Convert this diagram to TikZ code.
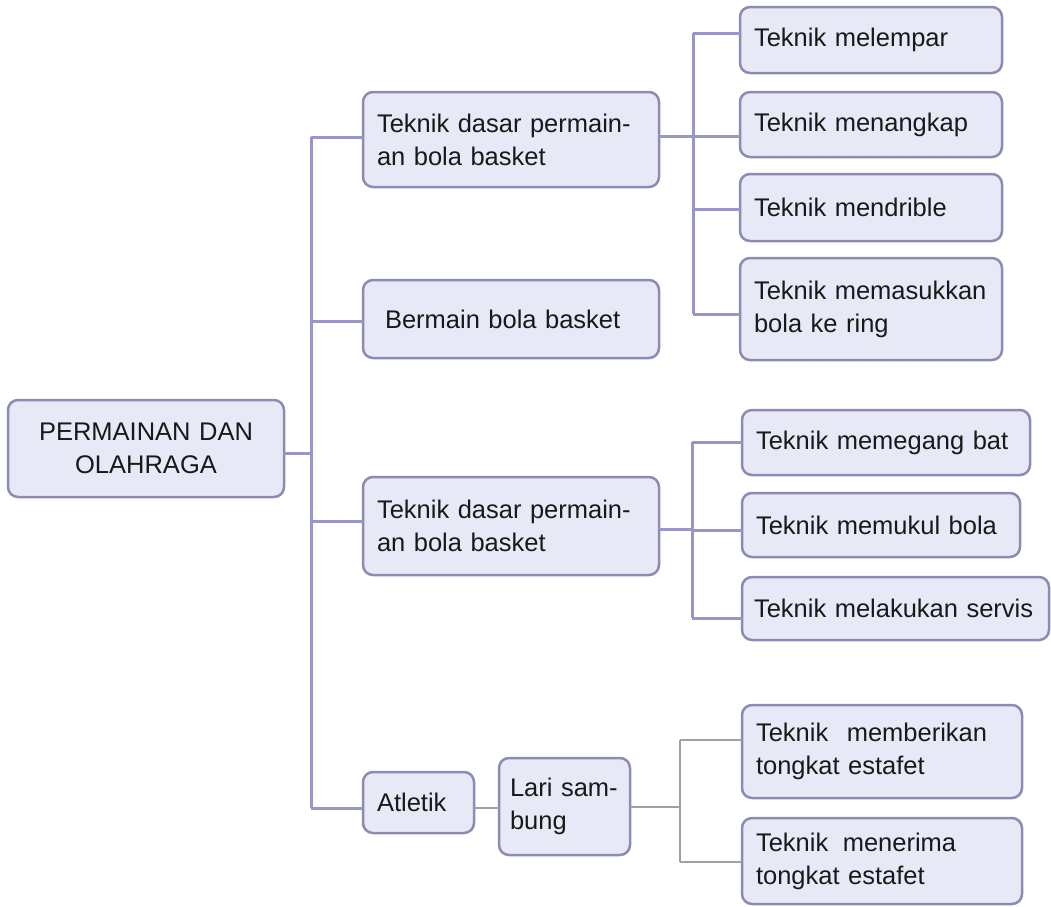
\documentclass[tikz,border=0pt]{standalone}
\usepackage{fontspec}
\setmainfont{Liberation Sans}
\definecolor{boxfill}{RGB}{232,233,247}
\definecolor{boxline}{RGB}{140,140,178}
\definecolor{linkc}{RGB}{152,150,200}
\definecolor{greyc}{RGB}{160,160,168}
\definecolor{txt}{RGB}{25,25,25}
\begin{document}
\begin{tikzpicture}[x=1pt,y=-1pt,
  bx/.style={draw=boxline, fill=boxfill, line width=2.5pt, rounded corners=10pt,
    anchor=north west, outer sep=0pt, inner xsep=14pt, inner ysep=0pt,
    text=txt, font=\fontsize{25.5}{33}\selectfont, align=left},
  lk/.style={draw=linkc, line width=3pt},
  lg/.style={draw=greyc, line width=2.2pt}]
\useasboundingbox (0,0) rectangle (1051,906);
% nodes
\node[bx, text width=248pt, minimum height=97pt, align=center] (root) at (8,400) {\mbox{PERMAINAN DAN}\\OLAHRAGA};
\node[bx, text width=268pt, minimum height=95pt] (A) at (363,92) {\mbox{Teknik dasar permain-}\\\mbox{an bola basket}};
\node[bx, inner xsep=22pt, text width=252pt, minimum height=78pt] (B) at (363,280) {\mbox{Bermain bola basket}};
\node[bx, text width=268pt, minimum height=98pt] (C) at (363,477) {\mbox{Teknik dasar permain-}\\\mbox{an bola basket}};
\node[bx, text width=83pt, minimum height=61pt] (Atl) at (363,772) {\mbox{Atletik}};
\node[bx, inner xsep=11pt, text width=109pt, minimum height=97pt] (Lari) at (499,758) {\mbox{Lari sam-}\\\mbox{bung}};
\node[bx, text width=234pt, minimum height=66pt] (m1) at (740,7) {\mbox{Teknik melempar}};
\node[bx, text width=234pt, minimum height=65pt] (m2) at (740,92) {\mbox{Teknik menangkap}};
\node[bx, text width=234pt, minimum height=67pt] (m3) at (740,174) {\mbox{Teknik mendrible}};
\node[bx, text width=234pt, minimum height=102pt] (m4) at (740,258) {\mbox{Teknik memasukkan}\\\mbox{bola ke ring}};
\node[bx, text width=260pt, minimum height=65pt] (c1) at (742,410) {\mbox{Teknik memegang bat}};
\node[bx, text width=250pt, minimum height=64pt] (c2) at (742,493) {\mbox{Teknik memukul bola}};
\node[bx, inner xsep=12pt, text width=283pt, minimum height=63pt] (c3) at (742,577) {\mbox{Teknik melakukan servis}};
\node[bx, text width=252pt, minimum height=93pt] (l1) at (742,705) {\mbox{Teknik\hspace{10pt} memberikan}\\\mbox{tongkat estafet}};
\node[bx, text width=252pt, minimum height=86pt] (l2) at (742,818) {\mbox{Teknik\hspace{6pt} menerima}\\\mbox{tongkat estafet}};
% junction coordinates
\coordinate (r0) at (311,453);
\coordinate (t1) at (311,137);
\coordinate (t2) at (311,321);
\coordinate (t3) at (311,521);
\coordinate (t4) at (311,808);
\coordinate (aj) at (693,136);
\coordinate (a1) at (693,33);
\coordinate (a3) at (693,209);
\coordinate (a4) at (693,314);
\coordinate (cj) at (692,529);
\coordinate (k1) at (692,442);
\coordinate (k2) at (692,530);
\coordinate (k3) at (692,618);
\coordinate (lj) at (680,807);
\coordinate (g1) at (680,740);
\coordinate (g2) at (680,862);
% connectors
\draw[lk] (r0 -| root.east) -- (r0);
\draw[lk] (t1) -- (t4);
\draw[lk] (t1) -- (t1 -| A.west);
\draw[lk] (t2) -- (t2 -| B.west);
\draw[lk] (t3) -- (t3 -| C.west);
\draw[lk] (t4) -- (t4 -| Atl.west);
\draw[lk] (aj -| A.east) -- (aj);
\draw[lk] (a1) -- (a4);
\draw[lk] (a1) -- (a1 -| m1.west);
\draw[lk] (aj) -- (aj -| m2.west);
\draw[lk] (a3) -- (a3 -| m3.west);
\draw[lk] (a4) -- (a4 -| m4.west);
\draw[lk] (cj -| C.east) -- (cj);
\draw[lk] (k1) -- (k3);
\draw[lk] (k1) -- (k1 -| c1.west);
\draw[lk] (k2) -- (k2 -| c2.west);
\draw[lk] (k3) -- (k3 -| c3.west);
\draw[lg] (t4 -| Atl.east) -- (t4 -| Lari.west);
\draw[lg] (lj -| Lari.east) -- (lj);
\draw[lg] (g1) -- (g2);
\draw[lg] (g1) -- (g1 -| l1.west);
\draw[lg] (g2) -- (g2 -| l2.west);
\end{tikzpicture}
\end{document}
